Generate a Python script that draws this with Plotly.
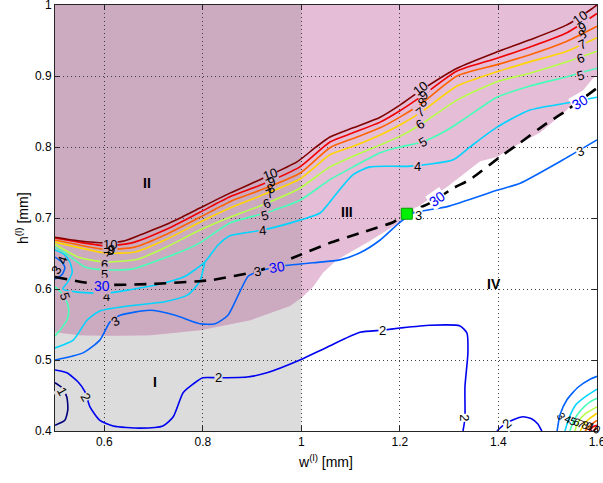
import plotly.graph_objects as go

# ---------------- axis ----------------
w_range = [0.5, 1.6]
h_range = [0.4, 1.0]
x_ticks = [0.6, 0.8, 1.0, 1.2, 1.4, 1.6]
x_ticktext = ["0.6", "0.8", "1", "1.2", "1.4", "1.6"]
y_ticks = [0.4, 0.5, 0.6, 0.7, 0.8, 0.9, 1.0]
y_ticktext = ["0.4", "0.5", "0.6", "0.7", "0.8", "0.9", "1"]

# ---------------- regions ----------------
region_I_w = [0.5, 1.0]          # grey band (region I)
# lower edge of the shaded upper zone (regions II / III), right to left
zone_w = [1.600, 1.592, 1.539, 1.484, 1.430, 1.397, 1.363, 1.296, 1.241, 1.214, 1.200, 1.133,
          1.072, 1.044, 1.024, 1.003, 0.977, 0.896, 0.794, 0.693, 0.612, 0.551, 0.500]
zone_h = [0.901, 0.897, 0.852, 0.820, 0.800, 0.786, 0.780, 0.744, 0.718, 0.706, 0.694, 0.665,
          0.641, 0.623, 0.603, 0.589, 0.576, 0.556, 0.542, 0.535, 0.534, 0.535, 0.539]

grey_col = "#DCDCDC"
pink_col = "#E5BDD7"
mauve_col = "#CCABC1"

# ---------------- contour levels (jet colours) ----------------
level_colors = {1: "#000080", 2: "#0000F1", 3: "#0063FF", 4: "#00D4FF", 5: "#47FFB8",
                6: "#B8FF47", 7: "#FFD400", 8: "#FF6300", 9: "#F10000", 10: "#800000"}

l10_w = [0.500, 0.547, 0.601, 0.642, 0.683, 0.723, 0.754, 0.794, 0.855, 0.916, 0.991, 1.028,
         1.058, 1.105, 1.160, 1.200, 1.241, 1.316, 1.397, 1.464, 1.539, 1.586, 1.600]
l10_h = [0.673, 0.668, 0.665, 0.668, 0.679, 0.690, 0.700, 0.714, 0.735, 0.754, 0.779, 0.799,
         0.814, 0.827, 0.842, 0.859, 0.879, 0.911, 0.934, 0.951, 0.972, 0.993, 1.000]
l9_w = [0.500, 0.601, 0.656, 0.723, 0.794, 0.855, 0.916, 0.997, 1.058, 1.105, 1.160, 1.200,
        1.245, 1.316, 1.397, 1.464, 1.539, 1.600]
l9_h = [0.672, 0.661, 0.665, 0.683, 0.708, 0.730, 0.746, 0.772, 0.807, 0.820, 0.835, 0.851,
        0.872, 0.907, 0.925, 0.941, 0.961, 0.988]
l8_w = [0.500, 0.601, 0.662, 0.723, 0.794, 0.855, 0.916, 0.997, 1.058, 1.105, 1.160, 1.200,
        1.245, 1.316, 1.397, 1.464, 1.539, 1.600]
l8_h = [0.669, 0.656, 0.659, 0.676, 0.701, 0.723, 0.739, 0.763, 0.799, 0.812, 0.827, 0.842,
        0.862, 0.900, 0.916, 0.930, 0.949, 0.970]
l7_w = [0.500, 0.601, 0.662, 0.723, 0.794, 0.855, 0.916, 0.997, 1.058, 1.105, 1.160, 1.200,
        1.241, 1.316, 1.397, 1.464, 1.539, 1.600]
l7_h = [0.666, 0.651, 0.652, 0.669, 0.694, 0.714, 0.731, 0.755, 0.789, 0.801, 0.817, 0.831,
        0.848, 0.886, 0.906, 0.920, 0.935, 0.954]
l6_w = [0.500, 0.547, 0.601, 0.668, 0.723, 0.794, 0.855, 0.916, 0.997, 1.058, 1.105, 1.160,
        1.200, 1.241, 1.316, 1.397, 1.464, 1.539, 1.600]
l6_h = [0.663, 0.645, 0.638, 0.642, 0.658, 0.683, 0.701, 0.717, 0.742, 0.772, 0.787, 0.803,
        0.815, 0.831, 0.866, 0.892, 0.904, 0.920, 0.935]
l5_w = [0.500, 0.520, 0.561, 0.601, 0.656, 0.723, 0.754, 0.794, 0.855, 0.926, 0.997, 1.058,
        1.105, 1.160, 1.200, 1.245, 1.296, 1.336, 1.397, 1.464, 1.539, 1.600]
l5_h = [0.659, 0.651, 0.631, 0.627, 0.628, 0.644, 0.652, 0.665, 0.693, 0.707, 0.725, 0.754,
        0.772, 0.792, 0.800, 0.807, 0.824, 0.842, 0.870, 0.886, 0.899, 0.911]
l5_loop_w = [0.500, 0.510, 0.522, 0.528, 0.524, 0.510, 0.500]
l5_loop_h = [0.603, 0.597, 0.585, 0.570, 0.556, 0.542, 0.534]
l4_w = [0.500, 0.518, 0.530, 0.535, 0.526, 0.516, 0.541, 0.601, 0.652, 0.713, 0.764, 0.804,
        0.831, 0.855, 0.922, 0.997, 1.038, 1.072, 1.105, 1.139, 1.221, 1.308, 1.342, 1.397,
        1.464, 1.539, 1.600]
l4_h = [0.655, 0.649, 0.638, 0.624, 0.610, 0.600, 0.596, 0.594, 0.599, 0.607, 0.618, 0.638,
        0.662, 0.675, 0.683, 0.697, 0.707, 0.735, 0.761, 0.772, 0.773, 0.782, 0.800, 0.828,
        0.852, 0.862, 0.870]
l4_low_w = [0.500, 0.537, 0.565, 0.591, 0.648, 0.723, 0.770, 0.794, 0.804]
l4_low_h = [0.517, 0.528, 0.556, 0.569, 0.576, 0.582, 0.592, 0.611, 0.638]
l3_w = [0.500, 0.557, 0.591, 0.612, 0.632, 0.693, 0.744, 0.794, 0.825, 0.851, 0.875, 0.892,
        0.910, 0.957, 1.024, 1.078, 1.119, 1.160, 1.200, 1.227, 1.296, 1.397, 1.444, 1.531, 1.600]
l3_h = [0.500, 0.510, 0.528, 0.554, 0.563, 0.570, 0.563, 0.551, 0.551, 0.563, 0.596, 0.618,
        0.624, 0.632, 0.637, 0.641, 0.651, 0.669, 0.694, 0.707, 0.716, 0.739, 0.749, 0.782, 0.810]
l3_loop_w = [0.500, 0.512, 0.520, 0.514, 0.500]
l3_loop_h = [0.645, 0.639, 0.630, 0.620, 0.614]
l2_w = [0.500, 0.524, 0.547, 0.561, 0.571, 0.591, 0.618, 0.673, 0.719, 0.740, 0.760, 0.780,
        0.800, 0.831, 0.890, 0.930, 0.997, 1.052, 1.119, 1.164, 1.200, 1.261, 1.322, 1.336,
        1.338, 1.332, 1.332, 1.328]
l2_h = [0.486, 0.482, 0.469, 0.455, 0.434, 0.415, 0.407, 0.404, 0.407, 0.420, 0.454, 0.466,
        0.475, 0.475, 0.476, 0.482, 0.500, 0.518, 0.539, 0.542, 0.545, 0.549, 0.548, 0.538,
        0.510, 0.462, 0.418, 0.400]
l2_arch_w = [1.397, 1.413, 1.434, 1.450, 1.468, 1.480, 1.488]
l2_arch_h = [0.400, 0.410, 0.417, 0.420, 0.417, 0.410, 0.400]
l1_w = [0.500, 0.514, 0.524, 0.526, 0.520, 0.500]
l1_h = [0.468, 0.461, 0.448, 0.430, 0.415, 0.408]

# corner cluster, bottom right (levels 3..10)
c3_w = [1.519, 1.525, 1.539, 1.562, 1.586, 1.600]
c3_h = [0.400, 0.423, 0.444, 0.462, 0.473, 0.477]
c4_w = [1.535, 1.543, 1.557, 1.578, 1.600]
c4_h = [0.400, 0.418, 0.437, 0.449, 0.459]
c5_w = [1.545, 1.553, 1.568, 1.586, 1.600]
c5_h = [0.400, 0.415, 0.430, 0.441, 0.446]
c6_w = [1.555, 1.562, 1.576, 1.600]
c6_h = [0.400, 0.413, 0.424, 0.434]
c7_w = [1.566, 1.574, 1.586, 1.600]
c7_h = [0.400, 0.410, 0.418, 0.425]
c8_w = [1.576, 1.584, 1.600]
c8_h = [0.400, 0.407, 0.415]
c9_w = [1.584, 1.592, 1.600]
c9_h = [0.400, 0.406, 0.408]
c10_w = [1.592, 1.600]
c10_h = [0.400, 0.404]

# 30-level of the second quantity (dashed)
d30_w = [0.500, 0.591, 0.693, 0.794, 0.821, 0.910, 0.983, 1.058, 1.125, 1.186, 1.214, 1.261,
         1.308, 1.342, 1.403, 1.444, 1.499, 1.531, 1.600]
d30_h = [0.617, 0.606, 0.607, 0.611, 0.613, 0.625, 0.644, 0.665, 0.680, 0.694, 0.707, 0.721,
         0.742, 0.754, 0.786, 0.806, 0.834, 0.848, 0.883]

# selected design point
point_w = [1.214]
point_h = [0.706]

# contour labels: text, w, h, angle, whether the line is broken under the label
label_text = ["10", "9", "8", "7", "6", "5", "4",
              "10", "9", "8", "7", "6", "5", "4", "3",
              "10", "9", "8", "7", "6", "5", "4", "3",
              "10", "9", "8", "7", "6", "5", "3",
              "4", "3", "5", "3", "1", "2", "2", "2", "2", "2",
              "3", "4", "5", "6", "7", "8", "9", "10"]
label_w = [0.612, 0.614, 0.612, 0.604, 0.601, 0.601, 0.604,
           0.936, 0.940, 0.938, 0.936, 0.930, 0.926, 0.922, 0.910,
           1.241, 1.247, 1.245, 1.241, 1.241, 1.245, 1.235, 1.237,
           1.566, 1.570, 1.570, 1.570, 1.566, 1.566, 1.566,
           0.516, 0.504, 0.520, 0.622, 0.514, 0.561, 0.831, 1.164, 1.332, 1.417,
           1.527, 1.541, 1.551, 1.560, 1.568, 1.576, 1.584, 1.594]
label_h = [0.663, 0.656, 0.654, 0.646, 0.634, 0.621, 0.590,
           0.761, 0.751, 0.742, 0.734, 0.721, 0.704, 0.682, 0.624,
           0.883, 0.873, 0.862, 0.848, 0.831, 0.807, 0.772, 0.704,
           0.982, 0.968, 0.958, 0.944, 0.925, 0.901, 0.793,
           0.641, 0.627, 0.589, 0.554, 0.455, 0.448, 0.475, 0.542, 0.418, 0.411,
           0.421, 0.417, 0.414, 0.413, 0.410, 0.408, 0.407, 0.404]
label_angle = [0, 0, 0, 0, 0, 0, 0,
               -20, -20, -20, -20, -20, -15, -5, -10,
               -38, -38, -38, -38, -35, -30, 0, 0,
               -35, -25, -25, -25, -20, -15, -20,
               -70, -60, 70, -30, 60, 60, 0, 0, 90, -40,
               60, 25, 25, 25, 25, 25, 25, 25]
label_gap = [1, 0, 0, 0, 1, 1, 1,
             1, 0, 0, 0, 1, 1, 1, 1,
             1, 0, 0, 1, 1, 1, 1, 1,
             1, 0, 0, 1, 1, 1, 1,
             0, 0, 1, 1, 1, 1, 1, 1, 1, 1,
             0, 0, 0, 0, 0, 0, 0, 0]
label_size = [13] * 40 + [11] * 8

# labels on the dashed 30-level
lab30_w = [0.595, 0.951, 1.275, 1.566]
lab30_h = [0.604, 0.631, 0.727, 0.863]
lab30_angle = [0, -10, -35, -30]

# region names
region_text = ["I", "II", "III", "IV"]
region_w = [0.703, 0.687, 1.093, 1.391]
region_h = [0.469, 0.749, 0.708, 0.607]


def clip_left(ws, hs, x_cut):
    """Part of a closed polygon lying at w <= x_cut."""
    pts = list(zip(ws, hs))
    out = []
    n = len(pts)
    for i in range(n):
        (x1, y1), (x2, y2) = pts[i], pts[(i + 1) % n]
        in1, in2 = x1 <= x_cut, x2 <= x_cut
        if in1:
            out.append((x1, y1))
        if in1 != in2:
            t = (x_cut - x1) / (x2 - x1)
            out.append((x_cut, y1 + t * (y2 - y1)))
    return out


def inside(px, py, ws, hs):
    res = False
    n = len(ws)
    j = n - 1
    for i in range(n):
        if (hs[i] > py) != (hs[j] > py):
            xc = ws[i] + (py - hs[i]) * (ws[j] - ws[i]) / (hs[j] - hs[i])
            if px < xc:
                res = not res
        j = i
    return res


def path_of(pts):
    return "M " + " L ".join(f"{x},{y}" for x, y in pts) + " Z"


# upper zone polygon: top edge, then lower edge right -> left
zone_poly_w = [w_range[0], w_range[1]] + zone_w
zone_poly_h = [h_range[1], h_range[1]] + zone_h
mauve_pts = clip_left(zone_poly_w, zone_poly_h, region_I_w[1])


def back_colour(w, h):
    in_zone = inside(w, h, zone_poly_w, zone_poly_h)
    if w <= region_I_w[1]:
        return mauve_col if in_zone else grey_col
    return pink_col if in_zone else "white"


shapes = [
    dict(type="rect", xref="x", yref="y", x0=region_I_w[0], x1=region_I_w[1],
         y0=h_range[0], y1=h_range[1], fillcolor=grey_col, line_width=0, layer="below"),
    dict(type="path", xref="x", yref="y", path=path_of(list(zip(zone_poly_w, zone_poly_h))),
         fillcolor=pink_col, line_width=0, layer="below"),
    dict(type="path", xref="x", yref="y", path=path_of(mauve_pts),
         fillcolor=mauve_col, line_width=0, layer="below"),
]

fig = go.Figure()

segments = [
    (1, l1_w, l1_h), (2, l2_w, l2_h), (2, l2_arch_w, l2_arch_h),
    (3, l3_w, l3_h), (3, l3_loop_w, l3_loop_h),
    (4, l4_w, l4_h), (4, l4_low_w, l4_low_h),
    (5, l5_w, l5_h), (5, l5_loop_w, l5_loop_h),
    (6, l6_w, l6_h), (7, l7_w, l7_h), (8, l8_w, l8_h), (9, l9_w, l9_h), (10, l10_w, l10_h),
    (3, c3_w, c3_h), (4, c4_w, c4_h), (5, c5_w, c5_h), (6, c6_w, c6_h), (7, c7_w, c7_h),
    (8, c8_w, c8_h), (9, c9_w, c9_h), (10, c10_w, c10_h),
]
for lev, ws, hs in segments:
    fig.add_trace(go.Scatter(x=ws, y=hs, mode="lines",
                             line=dict(color=level_colors[lev], width=1.6, shape="spline", smoothing=0.6),
                             hoverinfo="skip", showlegend=False))

fig.add_trace(go.Scatter(x=d30_w, y=d30_h, mode="lines",
                         line=dict(color="black", width=2.6, dash="12px,8px", shape="spline", smoothing=0.5),
                         hoverinfo="skip", showlegend=False))

fig.add_trace(go.Scatter(x=point_w, y=point_h, mode="markers",
                         marker=dict(symbol="square", size=11, color="#00F000",
                                     line=dict(color="#00A000", width=1)),
                         hoverinfo="skip", showlegend=False))

font_family = "Liberation Sans, Arial"
annotations = []
for t, w, h, a, g, s in zip(label_text, label_w, label_h, label_angle, label_gap, label_size):
    ann = dict(x=w, y=h, xref="x", yref="y", text=t, showarrow=False, textangle=a, borderpad=0,
               font=dict(family=font_family, size=s, color="black"))
    if g:
        ann["bgcolor"] = back_colour(w, h)
    annotations.append(ann)
for w, h, a in zip(lab30_w, lab30_h, lab30_angle):
    annotations.append(dict(x=w, y=h, xref="x", yref="y", text="30", showarrow=False, textangle=a,
                            borderpad=0, bgcolor=back_colour(w, h),
                            font=dict(family=font_family, size=14, color="#0000FF")))
for t, w, h in zip(region_text, region_w, region_h):
    annotations.append(dict(x=w, y=h, xref="x", yref="y", text=f"<b>{t}</b>", showarrow=False,
                            font=dict(family=font_family, size=14, color="black")))

# y-axis title placed beside the tick labels
annotations.append(dict(x=-0.061, y=0.5, xref="paper", yref="paper", text="h<sup>(l)</sup> [mm]",
                        showarrow=False, textangle=-90, xanchor="center", yanchor="middle",
                        font=dict(family=font_family, size=14, color="black")))

axis_common = dict(showline=True, linecolor="#262626", linewidth=1, mirror="allticks",
                   ticks="inside", ticklen=5, tickcolor="#262626", ticklabeloverflow="allow",
                   automargin=False,
                   showgrid=True, gridcolor="#404040", gridwidth=1, griddash="1px,3px",
                   zeroline=False, tickfont=dict(family=font_family, size=12, color="black"))

eps = 1e-6
fig.update_layout(
    width=603, height=483,
    margin=dict(l=55, r=6, t=5, b=52),
    paper_bgcolor="white", plot_bgcolor="white",
    shapes=shapes, annotations=annotations,
    xaxis=dict(range=[w_range[0] - eps, w_range[1] + eps], tickvals=x_ticks, ticktext=x_ticktext,
               title=dict(text="w<sup>(l)</sup> [mm]", standoff=8,
                          font=dict(family=font_family, size=14, color="black")),
               **axis_common),
    yaxis=dict(range=[h_range[0] - eps, h_range[1] + eps], tickvals=y_ticks, ticktext=y_ticktext,
               **axis_common),
)

fig.write_html("out.html")
